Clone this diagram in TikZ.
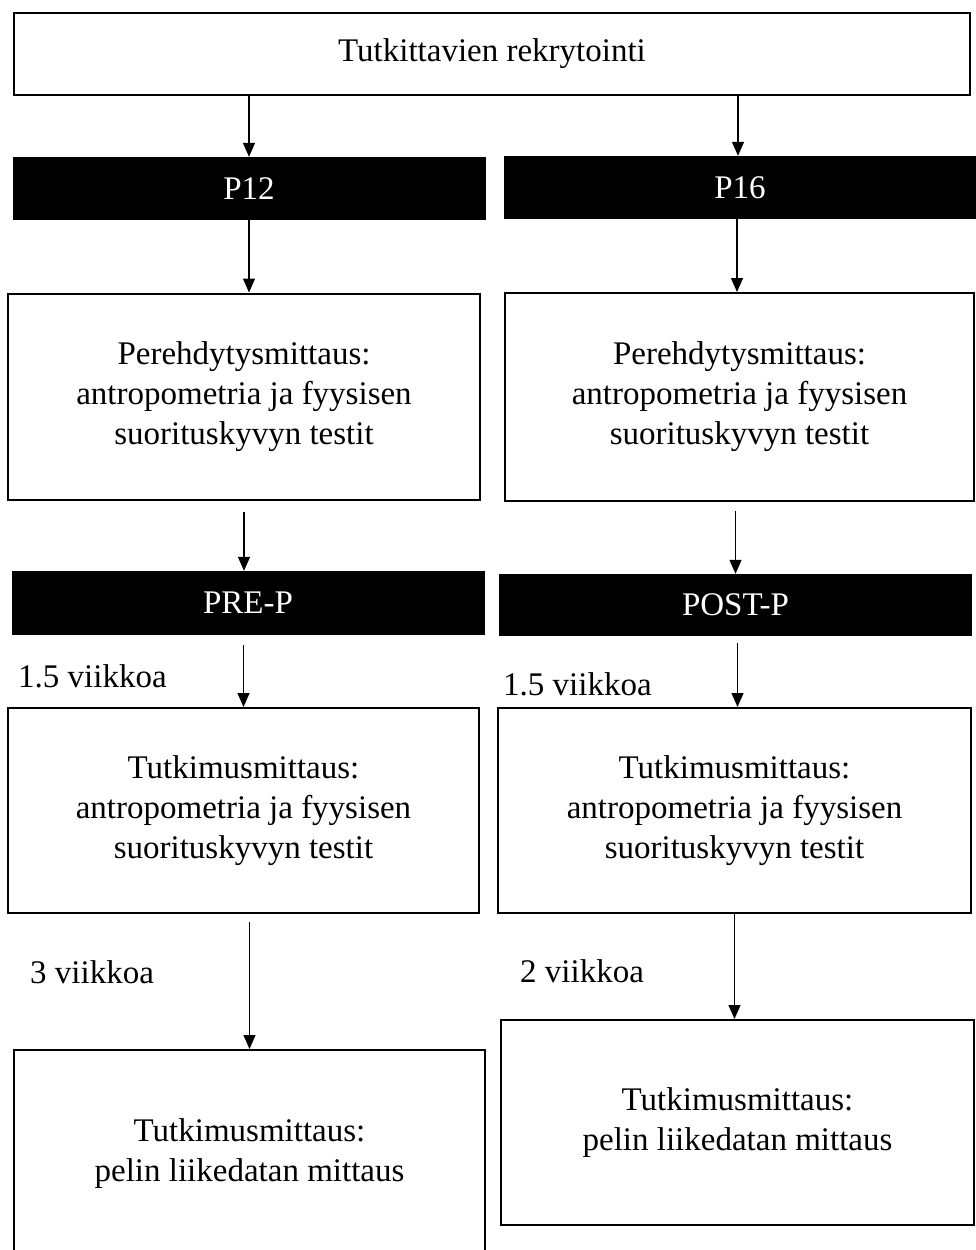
\documentclass[tikz,border=0pt]{standalone}
\usepackage{fontspec}
\setmainfont{Liberation Serif}
\usetikzlibrary{arrows.meta}

\begin{document}
\begin{tikzpicture}[
    x=1pt, y=-1pt,
    box/.style={rectangle, draw=black, line width=2pt, inner sep=0pt,
                minimum width=472pt, minimum height=206pt,
                align=center, font=\fontsize{33}{40}\selectfont},
    phase/.style={rectangle, fill=black, text=white, inner sep=0pt,
                  minimum width=473pt, minimum height=63pt,
                  font=\fontsize{33}{40}\selectfont},
    gap/.style={inner sep=0pt, anchor=base west,
                font=\fontsize{33}{40}\selectfont},
    arr/.style={-{Triangle[length=14pt, width=12pt]}, line width=1.3pt},
]

%% Page frame
\clip (0,0) rectangle (976,1250);

%% Recruitment
\node[box, minimum width=956pt, minimum height=82pt] (rekry) at (492,54)
    {Tutkittavien rekrytointi};

%% Groups
\node[phase] (p12) at (249,188.5) {P12};
\node[phase, minimum width=472pt] (p16) at (740,187.5) {P16};

%% Familiarisation
\node[box] (perL) at (244,396.5)
    {Perehdytysmittaus:\\antropometria ja fyysisen\\suorituskyvyn testit};
\node[box, minimum width=469pt, minimum height=208pt] (perR) at (739.5,397)
    {Perehdytysmittaus:\\antropometria ja fyysisen\\suorituskyvyn testit};

%% Period
\node[phase, minimum height=64pt] (preP) at (248,603) {PRE-P};
\node[phase, minimum height=62pt] (postP) at (735.5,605) {POST-P};

%% Study measurement 1
\node[box, minimum width=471pt, minimum height=205pt] (tutL) at (243.5,810.5)
    {Tutkimusmittaus:\\antropometria ja fyysisen\\suorituskyvyn testit};
\node[box, minimum width=473pt, minimum height=205pt] (tutR) at (734.5,810.5)
    {Tutkimusmittaus:\\antropometria ja fyysisen\\suorituskyvyn testit};

%% Study measurement 2
\node[box, minimum width=471pt, minimum height=208pt] (peliL) at (249.5,1154)
    {Tutkimusmittaus:\\pelin liikedatan mittaus};
\node[box, minimum width=473pt, minimum height=205pt] (peliR) at (737.5,1122.5)
    {Tutkimusmittaus:\\pelin liikedatan mittaus};

%% Interval labels
\node[gap] (vkA) at (18,687)  {1.5 viikkoa};
\node[gap] (vkB) at (503,695) {1.5 viikkoa};
\node[gap] (vkC) at (30,983)  {3 viikkoa};
\node[gap] (vkD) at (520,982) {2 viikkoa};

%% Arrows
\draw[arr] (rekry.south -| p12) -- (p12);
\draw[arr] ([xshift=-2pt]rekry.south -| p16) -- ([xshift=-2pt]p16.north);
\draw[arr] (p12) -- (perL.north -| p12);
\draw[arr] ([xshift=-3pt]p16.south) -- ([xshift=-3pt]perR.north -| p16);
\draw[arr] ([yshift=-11pt]perL.south) -- (perL.south |- preP.north);
\draw[arr] ([yshift=-9pt]perR.south -| postP) -- (postP);
\draw[arr] ([yshift=-10pt]preP.south -| tutL) -- (tutL);
\draw[arr] ([xshift=2pt, yshift=-7pt]postP.south) -- ([xshift=2pt]postP.south |- tutR.north);
\draw[arr] ([yshift=-8pt]tutL.south -| peliL) -- (peliL);
\draw[arr] (tutR) -- (tutR.south |- peliR.north);

\end{tikzpicture}
\end{document}
